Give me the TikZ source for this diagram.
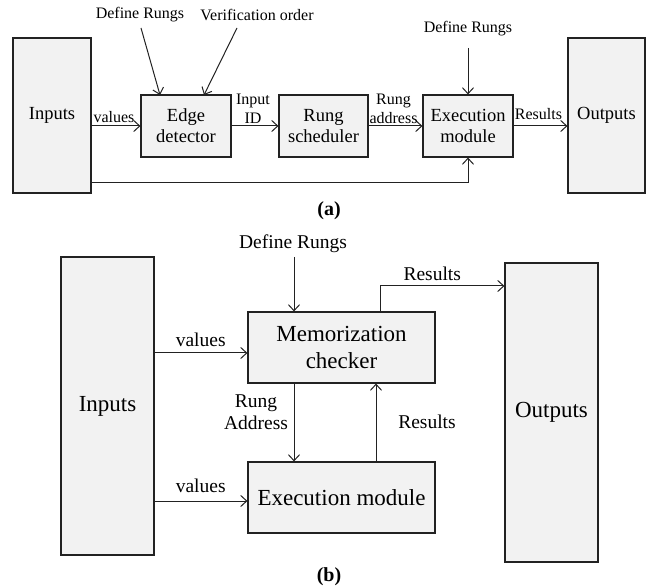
\documentclass[tikz,border=0pt]{standalone}
\usepackage{fontspec}
\setmainfont{Liberation Serif}
\usetikzlibrary{arrows.meta}
\definecolor{boxfill}{HTML}{F2F2F2}
\definecolor{ink}{HTML}{222222}
\tikzset{
  block/.style={draw=ink, line width=1.1pt, fill=boxfill, inner sep=0pt, align=center},
  smallbig/.style={font=\fontsize{18.5}{21}\selectfont},
  largebig/.style={font=\fontsize{23}{27}\selectfont},
  lbla/.style={font=\fontsize{16}{19}\selectfont, inner sep=0pt, align=center},
  lblb/.style={font=\fontsize{19.5}{22}\selectfont, inner sep=0pt, align=center},
  capt/.style={font=\fontsize{20}{23}\selectfont\bfseries, inner sep=0pt},
  flow/.style={draw=ink, line width=1pt, -{Straight Barb[length=6pt,width=11pt,line width=1pt]}},
  wire/.style={draw=ink, line width=1pt}
}
\begin{document}
\begin{tikzpicture}[x=1pt,y=-1pt]
\useasboundingbox (0,0) rectangle (646,588);

% ---------- (a) ----------
\node[block, smallbig, minimum width=78pt, minimum height=155pt] (ina) at (52,115.5) {Inputs};
\node[block, smallbig, minimum width=90pt, minimum height=62pt] (edge) at (186,126) {Edge\\detector};
\node[block, smallbig, minimum width=89pt, minimum height=62pt] (sched) at (323.5,126) {Rung\\scheduler};
\node[block, smallbig, minimum width=90pt, minimum height=62pt] (exa) at (468,126) {Execution\\module};
\node[block, smallbig, minimum width=77pt, minimum height=155pt] (outa) at (606.5,115.5) {Outputs};

\node[lbla] (dra) at (140,15) {Define Rungs};
\node[lbla] (vo) at (257,15) {Verification order};
\node[lbla] (drb) at (468,29) {Define Rungs};

\coordinate (draS) at (141,28);
\coordinate (voS) at (237,28);
\coordinate (drbS) at (468,48);
\coordinate (edgeA) at (160,95);
\coordinate (edgeB) at (204,95);
\coordinate (bend) at (468,183);

\draw[flow] (draS) -- (edgeA);
\draw[flow] (voS) -- (edgeB);
\draw[flow] (drbS) -- (exa.north);

\draw[flow] (ina.east |- edge.west) -- node[lbla, above=3pt, xshift=-2pt] {values} (edge.west);
\draw[flow] (edge.east) -- node[lbla, above=2pt, xshift=-2pt] {Input\\ID} (sched.west);
\draw[flow] (sched.east) -- node[lbla, above=2pt, xshift=-2pt] {Rung\\address} (exa.west);
\draw[flow] (exa.east) -- node[lbla, above=6pt, xshift=-2pt] {Results} (outa.west |- exa.east);
\draw[flow] (ina.east |- bend) -- (bend) -- (exa.south);

\node[capt] (capa) at (329,211) {(a)};

% ---------- (b) ----------
\node[block, largebig, minimum width=93pt, minimum height=298pt] (inb) at (107.5,406) {Inputs};
\node[block, largebig, minimum width=187pt, minimum height=71pt] (memo) at (341.5,347.5) {Memorization\\checker};
\node[block, largebig, minimum width=187pt, minimum height=71pt] (exb) at (341.5,497.5) {Execution module};
\node[block, largebig, minimum width=93pt, minimum height=299pt] (outb) at (551.5,412.5) {Outputs};

\node[lblb] (drc) at (293,244) {Define Rungs};
\coordinate (drcS) at (294,257);
\draw[flow] (drcS) -- (memo.north -| drcS);

\coordinate (v1) at (154,353);
\coordinate (v2) at (154,501);
\draw[flow] (v1) -- node[lblb, above=6pt] {values} (memo.west |- v1);
\draw[flow] (v2) -- node[lblb, above=8pt] {values} (exb.west |- v2);

\coordinate (ra) at (294,383);
\draw[flow] (ra) -- (exb.north -| ra);
\node[lblb] (ral) at (256,412.5) {Rung\\Address};

\coordinate (rb) at (376,462);
\draw[flow] (rb) -- (memo.south -| rb);
\node[lblb] (rbl) at (427,422) {Results};

\coordinate (rt0) at (380,312);
\coordinate (rt1) at (380,286);
\draw[flow] (rt0) -- (rt1) -- node[lblb, above=5pt, pos=0.42] {Results} (outb.west |- rt1);

\node[capt] (capb) at (329,577) {(b)};
\end{tikzpicture}
\end{document}
